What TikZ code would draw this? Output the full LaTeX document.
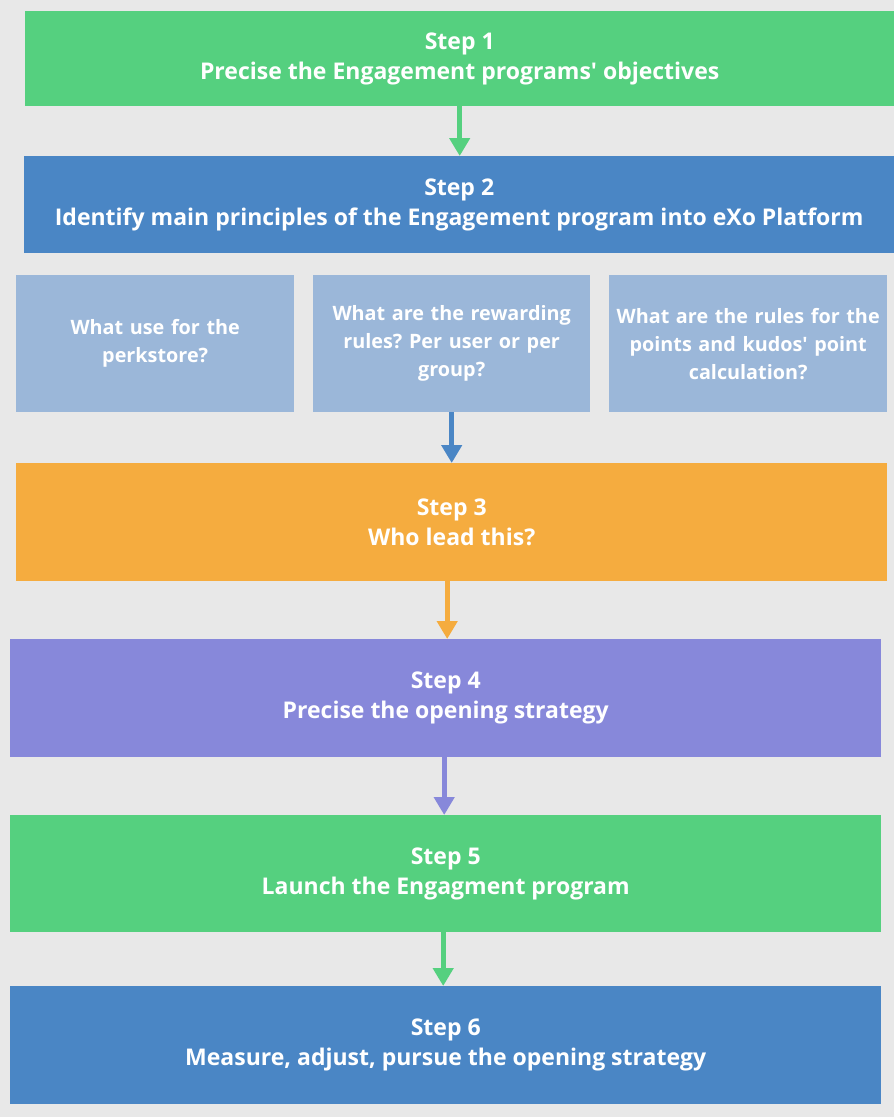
\documentclass[tikz,border=0pt]{standalone}
\usepackage{fontspec}
\setmainfont{Open Sans}
\usetikzlibrary{arrows.meta}
\frenchspacing
\definecolor{bg}{HTML}{E8E8E8}
\definecolor{cgreen}{HTML}{55D07F}
\definecolor{cblue}{HTML}{4A86C5}
\definecolor{clight}{HTML}{9BB7D9}
\definecolor{corange}{HTML}{F5AC3F}
\definecolor{cpurple}{HTML}{8788DA}
\tikzset{
  box/.style={anchor=north west, inner sep=0pt, align=center, text=white,
    font=\fontsize{23}{30}\selectfont\bfseries},
  qbox/.style={box, fill=clight, minimum width=278pt, minimum height=137pt,
    text width=276pt, font=\fontsize{19.8}{28}\selectfont\bfseries},
  conn/.style={line width=5pt, -{Triangle[width=20pt,length=18pt]}},
}
\begin{document}
\begin{tikzpicture}[x=1pt,y=-1pt]
\fill[bg] (0,0) rectangle (894,1117);
\useasboundingbox (0,0) rectangle (894,1117);
\node[box, fill=cgreen, minimum width=869pt, minimum height=95pt] (s1) at (25,11)
  {Step 1\\Precise the Engagement programs\textquotesingle{} objectives};
\node[box, fill=cblue, minimum width=870pt, minimum height=97pt] (s2) at (24,156)
  {Step 2\\Identify main principles of the Engagement program into eXo Platform};
\node[qbox] (q1) at (16,275) {What use for the\\perkstore?};
\node[qbox, minimum width=277pt] (q2) at (313,275) {What are the rewarding\\rules? Per user or per\\group?};
\node[qbox] (q3) at (609,275) {What are the rules for the\\points and kudos\textquotesingle{} point\\calculation?};
\node[box, fill=corange, minimum width=871pt, minimum height=118pt] (s3) at (16,463)
  {Step 3\\Who lead this?};
\node[box, fill=cpurple, minimum width=871pt, minimum height=118pt] (s4) at (10,639)
  {Step 4\\Precise the opening strategy};
\node[box, fill=cgreen, minimum width=871pt, minimum height=117pt] (s5) at (10,815)
  {Step 5\\Launch the Engagment program};
\node[box, fill=cblue, minimum width=871pt, minimum height=118pt] (s6) at (10,986)
  {Step 6\\Measure, adjust, pursue the opening strategy};
\draw[conn, cgreen] (s1.south) -- (s1.south |- s2.north);
\draw[conn, cblue] (q2.south) -- (q2.south |- s3.north);
\draw[conn, corange] ([xshift=-4.5pt]s3.south) -- ([xshift=-4.5pt]s3.south |- s4.north);
\draw[conn, cpurple] ([xshift=-1.5pt]s4.south) -- ([xshift=-1.5pt]s4.south |- s5.north);
\draw[conn, cgreen] ([xshift=-2.5pt]s5.south) -- ([xshift=-2.5pt]s5.south |- s6.north);
\end{tikzpicture}
\end{document}
